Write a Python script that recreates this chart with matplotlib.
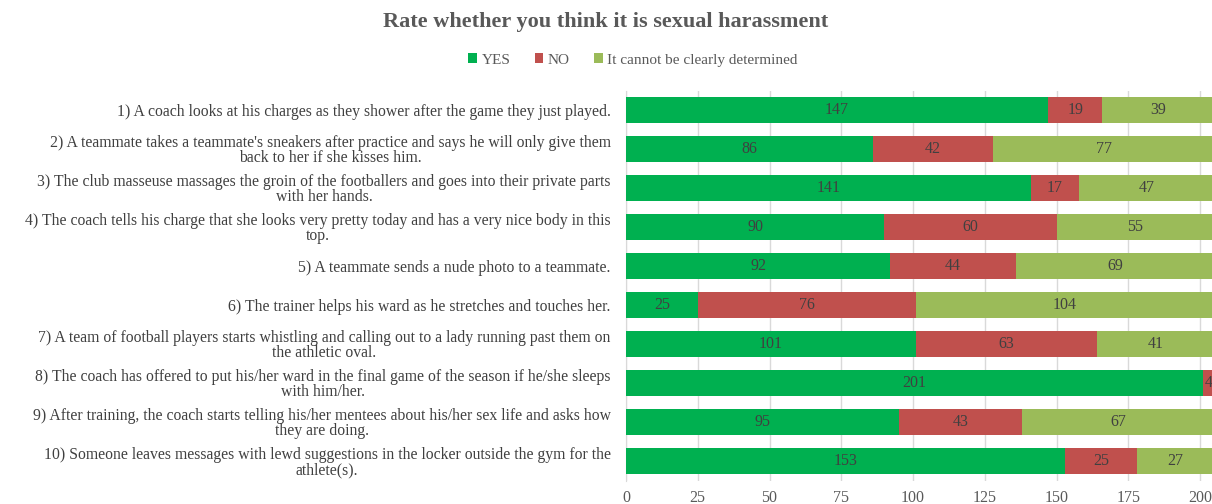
import numpy as np
import matplotlib.pyplot as plt

plt.rcParams['font.family'] = ['Liberation Serif', 'DejaVu Serif']

# data
questions = [
    "1) A coach looks at his charges as they shower after the game they just played.",
    "2) A teammate takes a teammate's sneakers after practice and says he will only give them\nback to her if she kisses him.",
    "3) The club masseuse massages the groin of the footballers and goes into their private parts\nwith her hands.",
    "4) The coach tells his charge that she looks very pretty today and has a very nice body in this\ntop.",
    "5) A teammate sends a nude photo to a teammate.",
    "6) The trainer helps his ward as he stretches and touches her.",
    "7) A team of football players starts whistling and calling out to a lady running past them on\nthe athletic oval.",
    "8) The coach has offered to put his/her ward in the final game of the season if he/she sleeps\nwith him/her.",
    "9) After training, the coach starts telling his/her mentees about his/her sex life and asks how\nthey are doing.",
    "10) Someone leaves messages with lewd suggestions in the locker outside the gym for the\nathlete(s).",
]
yes_vals = [147, 86, 141, 90, 92, 25, 101, 201, 95, 153]
no_vals = [19, 42, 17, 60, 44, 76, 63, 4, 43, 25]
unclear_vals = [39, 77, 47, 55, 69, 104, 41, 0, 67, 27]
series_names = ["YES", "NO", "It cannot be clearly determined"]
colors = ["#00B050", "#C0504D", "#9BBB59"]
xticks = [0, 25, 50, 75, 100, 125, 150, 175, 200]

W, H = 1212, 504
fig = plt.figure(figsize=(W / 100, H / 100), dpi=100)
ax = fig.add_axes([626 / W, (H - 480.5) / H, 1 - 626 / W, 390 / H])

y = np.arange(len(questions))
left = np.zeros(len(questions))
for vals, name, col in zip([yes_vals, no_vals, unclear_vals], series_names, colors):
    vals = np.array(vals, dtype=float)
    ax.barh(y, vals, left=left, height=0.65, color=col, label=name, zorder=3)
    for yi, (l, v) in enumerate(zip(left, vals)):
        if v > 0:
            ax.text(l + v / 2, yi, str(int(v)), ha='center', va='center',
                    fontsize=11.5, color='#404040', zorder=4)
    left += vals

ax.set_xlim(0, (W - 626) / 2.87)
ax.set_ylim(len(questions) - 0.5, -0.5)
ax.set_yticks(y)
ax.set_yticklabels(questions, fontsize=11.3, color='#404040', linespacing=0.95)
for lab in ax.get_yticklabels():
    lab.set_multialignment('center')
ax.set_xticks(xticks)
ax.tick_params(axis='x', labelsize=11.5, labelcolor='#595959', length=0, pad=7)
ax.tick_params(axis='y', length=0, pad=11)
ax.grid(axis='x', color='#D9D9D9', linewidth=1, zorder=0)
for s in ['top', 'right', 'bottom']:
    ax.spines[s].set_visible(False)
ax.spines['left'].set_color('#D9D9D9')

fig.text(0.5, 1 - 22 / H, "Rate whether you think it is sexual harassment",
         ha='center', va='center', fontsize=16, fontweight='bold', color='#595959')
fig.legend(loc='center', bbox_to_anchor=(633 / W, 1 - 60 / H), ncol=3, frameon=False,
           fontsize=11, handlelength=0.55, handleheight=0.55, handletextpad=0.3,
           columnspacing=1.6, labelcolor='#595959')

fig.savefig('out.png', dpi=100)
